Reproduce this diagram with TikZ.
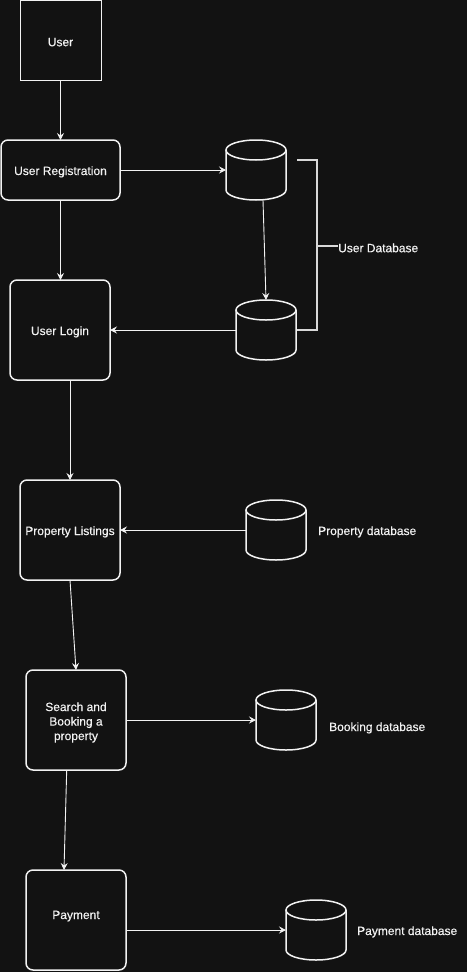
\documentclass[tikz,border=0pt]{standalone}
\usepackage{fontspec}
\setmainfont[FakeBold=0.4]{Liberation Sans}
\usetikzlibrary{arrows.meta}
\definecolor{bg}{HTML}{121212}
\definecolor{fg}{HTML}{F2F2F2}
\definecolor{brk}{HTML}{D8D8D8}
\tikzset{
  flowbox/.style={draw=fg, line width=1.5pt, rounded corners=7pt, minimum width=100pt,
    minimum height=100pt, inner sep=0pt, outer sep=0pt, text=fg, align=center},
  plainbox/.style={draw=fg, line width=1pt, minimum width=81pt, minimum height=80pt,
    inner sep=0pt, outer sep=0pt, text=fg},
  lowtext/.style={text height=12.5pt},
  dbnode/.style={minimum width=60pt, minimum height=60pt, inner sep=0pt, outer sep=0pt},
  dbline/.style={draw=fg, line width=1.5pt},
  flow/.style={draw=fg, line width=0.9pt, -{Stealth[length=7pt,width=7pt,inset=2.5pt]}},
  bracketline/.style={draw=brk, line width=1.5pt},
  dblabel/.style={anchor=west, text=fg, inner sep=0pt, lowtext},
}
\newcommand\dbcyl[1]{%
  \draw[dbline] (#1.north west) ++(0,10) -- ++(0,40)
     arc[start angle=180, end angle=0, x radius=30, y radius=10] -- ++(0,-40);
  \draw[dbline] (#1.north) ++(0,10) ellipse[x radius=30, y radius=10];}
\begin{document}
\begin{tikzpicture}[x=1pt, y=-1pt, font=\fontsize{12}{14.5}\selectfont]
\fill[bg] (0,0) rectangle (467,972);
\useasboundingbox (0,0) rectangle (467,972);

% process boxes
\node[plainbox, lowtext] (user) at (60.5,40) {User};
\node[flowbox, lowtext, minimum width=119pt, minimum height=60pt] (reg) at (60.5,170) {User Registration};
\node[flowbox, lowtext] (login) at (60,330) {User Login};
\node[flowbox, lowtext] (plist) at (70,530) {Property Listings};
\node[flowbox] (search) at (76,720) {\rule{0pt}{13.6pt}Search and\\Booking a\\property};
\node[flowbox, lowtext, text depth=14.5pt] (pay) at (76,920) {Payment};

% databases
\node[dbnode] (udb1) at (256,170) {};
\node[dbnode] (udb2) at (266,330) {};
\node[dbnode] (pdb) at (276,530) {};
\node[dbnode] (bdb) at (286,720) {};
\node[dbnode] (paydb) at (316,930) {};
\dbcyl{udb1}
\dbcyl{udb2}
\dbcyl{pdb}
\dbcyl{bdb}
\dbcyl{paydb}

% labels
\node[dblabel] (udblabel) at (338,246) {User Database};
\node[dblabel] (pdblabel) at (318,530) {Property database};
\node[dblabel] (bdblabel) at (329,726) {Booking database};
\node[dblabel] (paydblabel) at (357,930) {Payment database};

% bracket
\coordinate (brtop) at (297,160);
\coordinate (brbot) at (297,330);
\draw[bracketline] (brtop) -- (317,160) -- (317,330) -- (brbot);
\draw[bracketline] (317,246) -- (udblabel.west);

% connectors
\draw[flow] (user) -- (reg);
\draw[flow] (reg) -- (udb1);
\coordinate (udb1out) at (263,200);
\draw[flow] (udb1out) -- (udb2.north);
\draw[flow] (reg.south) -- (reg.south |- login.north);
\draw[flow] (udb2) -- (login);
\coordinate (loginout) at (70,380);
\draw[flow] (loginout) -- (plist.north);
\draw[flow] (pdb) -- (plist);
\draw[flow] (plist.south) -- (search.north);
\draw[flow] (search) -- (bdb);
\coordinate (searchout) at (66.7,770);
\coordinate (payin) at (64,870);
\draw[flow] (searchout) -- (payin);
\draw[flow] (pay.east |- paydb.west) -- (paydb.west);
\end{tikzpicture}
\end{document}
